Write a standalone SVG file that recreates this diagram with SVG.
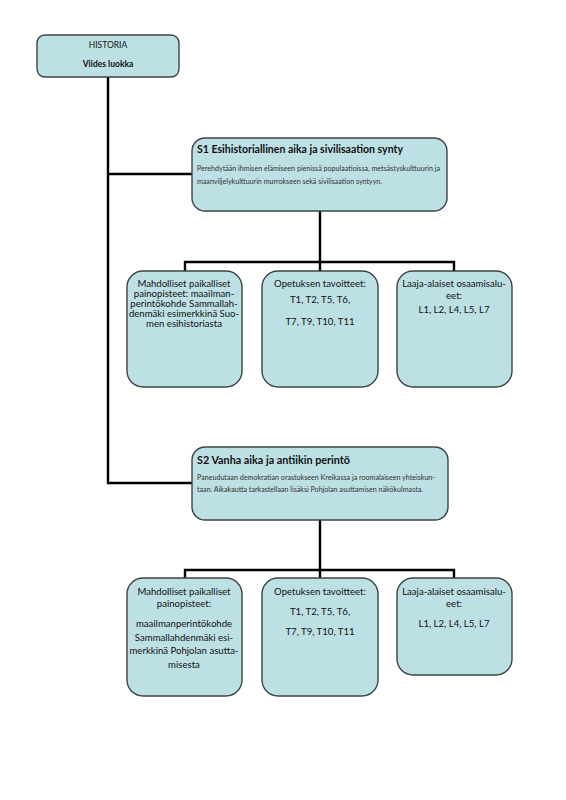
<svg xmlns="http://www.w3.org/2000/svg" width="566" height="800" viewBox="0 0 566 800">
<style>
.box{fill:#bde0e4;stroke:#3c4446;stroke-width:1.4}
.conn{fill:none;stroke:#000;stroke-width:2.4}
text{font-family:Lato,"Open Sans","Liberation Sans",sans-serif;fill:#111}
.c{text-anchor:middle;font-size:9.6px}
.t{font-size:11.8px;font-weight:bold}
.d{font-size:7.2px;fill:#333}
.s{text-anchor:middle;font-size:8.5px}
</style>
<rect width="566" height="800" fill="#fff"/>
<g id="connectors">
<path class="conn" d="M108,77 V483 H192"/>
<path class="conn" d="M108,174 H192"/>
<path class="conn" d="M320,211 V262 M185,271 V262 H454 V271 M320,262 V271"/>
<path class="conn" d="M320,520 V570 M185,578 V570 H454 V578 M320,570 V578"/>
</g>
<g id="historia">
<rect class="box" x="37" y="35" width="142" height="42" rx="8"/>
<text class="s" x="108" y="48">HISTORIA</text>
<text class="s" x="108" y="67" font-weight="bold">Viides luokka</text>
</g>
<g id="s1">
<rect class="box" x="192" y="138" width="255" height="73" rx="13"/>
<text class="t" x="197" y="153" textLength="206" lengthAdjust="spacingAndGlyphs">S1 Esihistoriallinen aika ja sivilisaation synty</text>
<text class="d" x="197" y="171" textLength="243" lengthAdjust="spacingAndGlyphs">Perehdytään ihmisen elämiseen pienissä populaatioissa, metsästyskulttuurin ja</text>
<text class="d" x="197" y="184" textLength="185" lengthAdjust="spacingAndGlyphs">maanviljelykulttuurin murrokseen sekä sivilisaation syntyyn.</text>
</g>
<g id="s1-painopisteet">
<rect class="box" x="127" y="271" width="115" height="116" rx="16"/>
<text class="c" x="184" y="287">Mahdolliset paikalliset</text>
<text class="c" x="184" y="297">painopisteet: maailman-</text>
<text class="c" x="184" y="307">perintökohde Sammallah-</text>
<text class="c" x="184" y="317">denmäki esimerkkinä Suo-</text>
<text class="c" x="184" y="327">men esihistoriasta</text>
</g>
<g id="s1-tavoitteet">
<rect class="box" x="262" y="271" width="116" height="116" rx="16"/>
<text class="c" x="320" y="287">Opetuksen tavoitteet:</text>
<text class="c" x="320" y="303">T1, T2, T5, T6,</text>
<text class="c" x="320" y="325">T7, T9, T10, T11</text>
</g>
<g id="s1-laaja">
<rect class="box" x="397" y="271" width="115" height="116" rx="16"/>
<text class="c" x="454" y="287">Laaja-alaiset osaamisalu-</text>
<text class="c" x="454" y="299">eet:</text>
<text class="c" x="454" y="313">L1, L2, L4, L5, L7</text>
</g>
<g id="s2">
<rect class="box" x="192" y="447" width="256" height="73" rx="13"/>
<text class="t" x="197" y="464" textLength="153" lengthAdjust="spacingAndGlyphs">S2 Vanha aika ja antiikin perintö</text>
<text class="d" x="197" y="480" textLength="238" lengthAdjust="spacingAndGlyphs">Paneudutaan demokratian orastukseen Kreikassa ja roomalaiseen yhteiskun-</text>
<text class="d" x="197" y="492" textLength="226" lengthAdjust="spacingAndGlyphs">taan. Aikakautta tarkastellaan lisäksi Pohjolan asuttamisen näkökulmasta.</text>
</g>
<g id="s2-painopisteet">
<rect class="box" x="127" y="578" width="115" height="118" rx="16"/>
<text class="c" x="184" y="595">Mahdolliset paikalliset</text>
<text class="c" x="184" y="607">painopisteet:</text>
<text class="c" x="184" y="627">maailmanperintökohde</text>
<text class="c" x="184" y="641">Sammallahdenmäki esi-</text>
<text class="c" x="184" y="654">merkkinä Pohjolan asutta-</text>
<text class="c" x="184" y="668">misesta</text>
</g>
<g id="s2-tavoitteet">
<rect class="box" x="262" y="578" width="116" height="118" rx="16"/>
<text class="c" x="320" y="595">Opetuksen tavoitteet:</text>
<text class="c" x="320" y="615">T1, T2, T5, T6,</text>
<text class="c" x="320" y="635">T7, T9, T10, T11</text>
</g>
<g id="s2-laaja">
<rect class="box" x="397" y="578" width="115" height="97" rx="16"/>
<text class="c" x="454" y="595">Laaja-alaiset osaamisalu-</text>
<text class="c" x="454" y="607">eet:</text>
<text class="c" x="454" y="627">L1, L2, L4, L5, L7</text>
</g>
</svg>
